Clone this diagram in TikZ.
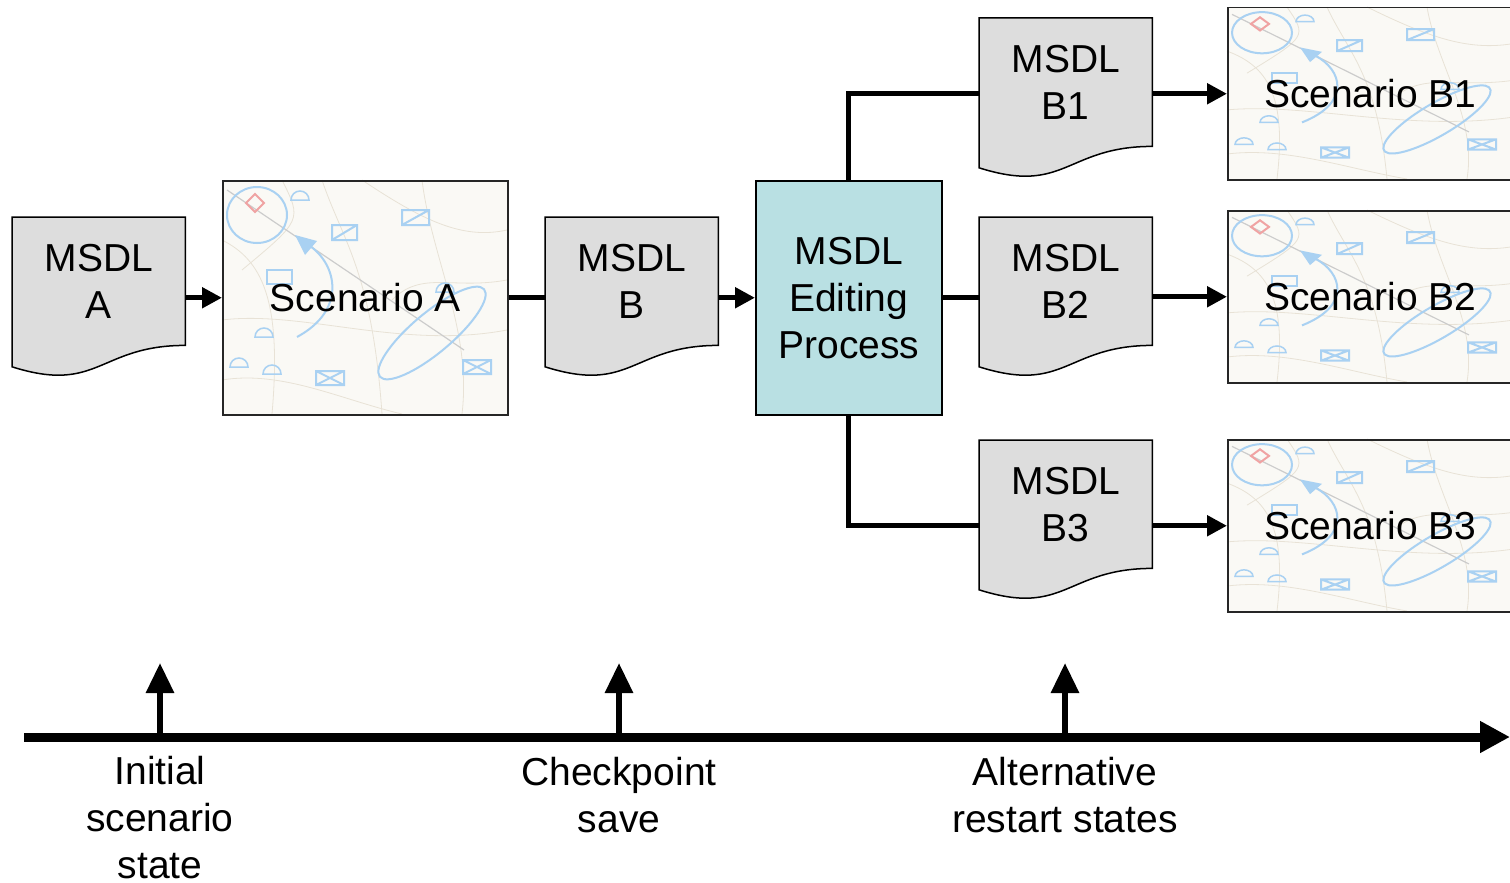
\documentclass[tikz,border=0pt]{standalone}
\usepackage{fontspec}
\setmainfont{Liberation Sans}
\usetikzlibrary{arrows.meta,calc}
\pgfdeclarelayer{background}
\pgfsetlayers{background,main}
\definecolor{docgray}{HTML}{DDDDDD}
\definecolor{editteal}{HTML}{B9E0E3}
\definecolor{mapblue}{HTML}{A9D1F2}
\definecolor{mapred}{HTML}{F0A3A3}
\definecolor{mapbg}{HTML}{FAF9F5}
\definecolor{maproad}{HTML}{E8E2D6}
\tikzset{
  txt/.style={font=\fontsize{39}{47}\selectfont, align=center},
  docnode/.style={txt, minimum width=173pt, minimum height=128pt, inner sep=0pt, anchor=north west},
  docline/.style={draw=black, line width=1.5pt, fill=docgray},
  editbox/.style={txt, draw=black, line width=1.5pt, fill=editteal, minimum width=186pt, minimum height=234pt, inner sep=0pt, anchor=north west},
  scenbox/.style={txt, draw=black!85, line width=1.5pt, minimum width=285pt, inner sep=0pt, anchor=north west},
  flow/.style={line width=5pt},
  flowarrow/.style={flow, -{Triangle[length=20pt,width=20pt]}},
  axisline/.style={line width=9pt, -{Triangle[length=30pt,width=30pt]}},
  tickarrow/.style={line width=6pt, -{Triangle[length=30pt,width=27pt]}},
  mapline/.style={draw=mapblue, line width=2pt},
  roadline/.style={draw=maproad, line width=0.8pt},
  lbl/.style={txt, inner sep=0pt},
}
\newcommand\docshape[1]{%
  \begin{pgfonlayer}{background}
  \path[docline] (#1.south east) -- (#1.north east) -- (#1.north west) -- ([yshift=-21.4pt]#1.south west)
     .. controls ([yshift=-48.9pt]#1.south) and (#1.south) .. (#1.south east) -- cycle;
  \end{pgfonlayer}}
\newcommand\mapdeco{%
  \fill[mapbg] (0,0) rectangle (285,234);
  \draw[roadline] (0,60) .. controls (40,80) and (60,120) .. (50,234);
  \draw[roadline] (100,0) .. controls (120,60) and (150,90) .. (160,234);
  \draw[roadline] (0,140) .. controls (80,130) and (180,170) .. (285,150);
  \draw[roadline] (140,0) .. controls (200,40) and (240,60) .. (285,50);
  \draw[roadline] (200,0) .. controls (210,80) and (250,150) .. (240,234);
  \draw[roadline] (0,200) .. controls (60,190) and (120,220) .. (180,234);
  \draw[roadline] (60,0) .. controls (80,40) .. (20,90);
  \draw[roadline] (285,100) .. controls (230,110) and (200,90) .. (170,120);
  \draw[gray!40, line width=1.2pt] (5,10) -- (242,170);
  \draw[mapline] (35,35) ellipse [x radius=30pt, y radius=28pt];
  \draw[mapred, line width=2pt] (33,14) -- (42,23) -- (33,32) -- (24,23) -- cycle;
  \draw[mapline] (180,30) rectangle (207,45) (180,45) -- (207,30);
  \draw[mapline] (110,45) rectangle (135,60) (110,60) -- (135,45);
  \draw[mapline] (45,90) rectangle (70,104);
  \draw[mapline] (94,191) rectangle (122,205) (94,191) -- (122,205) (94,205) -- (122,191);
  \draw[mapline] (241,180) rectangle (269,194) (241,180) -- (269,194) (241,194) -- (269,180);
  \foreach \px/\py in {78/13, 42/150, 17/180, 50/187, 223/105}{
    \draw[mapline, line width=1.5pt] (\px-9,\py+7) arc[start angle=180, end angle=0, radius=9pt] -- cycle;
  }
  \draw[mapline] (75,157) .. controls (125,130) and (115,85) .. (88,66);
  \fill[mapblue] (73,55) -- (95,61) -- (83,75) -- cycle;
  \draw[mapline, rotate around={40:(210,153)}] (210,153) ellipse [x radius=68pt, y radius=20pt];
}
\begin{document}
\begin{tikzpicture}[x=1pt, y=-1pt]
\useasboundingbox (0,0) rectangle (1510,883);
% documents and boxes
\node[docnode] (ma) at (12,217) {MSDL\\A};
\docshape{ma}
\node[scenbox, minimum height=234pt] (sa) at (222,180) {Scenario A};
\node[docnode] (mb) at (545,217) {MSDL\\B};
\docshape{mb}
\node[editbox] (ed) at (755,180) {MSDL\\Editing\\Process};
\node[docnode] (mb1) at (979,18) {MSDL\\B1};
\docshape{mb1}
\node[docnode] (mb2) at (979,217) {MSDL\\B2};
\docshape{mb2}
\node[docnode] (mb3) at (979,440) {MSDL\\B3};
\docshape{mb3}
\node[scenbox, minimum height=172pt] (sb1) at (1227,7) {Scenario B1};
\node[scenbox, minimum height=172pt] (sb2) at (1227,210) {Scenario B2};
\node[scenbox, minimum height=172pt] (sb3) at (1227,439) {Scenario B3};
% map backgrounds
\begin{pgfonlayer}{background}
\begin{scope}[shift={(sa.north west)}] \mapdeco \end{scope}
\begin{scope}[shift={(sb1.north west)}, yscale=0.735] \mapdeco \end{scope}
\begin{scope}[shift={(sb2.north west)}, yscale=0.735] \mapdeco \end{scope}
\begin{scope}[shift={(sb3.north west)}, yscale=0.735] \mapdeco \end{scope}
\end{pgfonlayer}
% connectors
\draw[flowarrow] (ma.east |- sa.west) -- (sa.west);
\draw[flow] (sa.east) -- (sa.east -| mb.west);
\draw[flowarrow] (mb.east |- ed.west) -- (ed.west);
\draw[flow] (ed.east) -- (ed.east -| mb2.west);
\draw[flow] (ed.north) |- (mb1.west |- sb1.west);
\draw[flow] (ed.south) |- (mb3.west |- sb3.west);
\draw[flowarrow] (mb1.east |- sb1.west) -- (sb1.west);
\draw[flowarrow] (mb2.east |- sb2.west) -- (sb2.west);
\draw[flowarrow] (mb3.east |- sb3.west) -- (sb3.west);
% timeline
\coordinate (t0) at (24,737);
\coordinate (t1) at (1510,737);
\draw[axisline] (t0) -- (t1);
\coordinate (k1) at (160,737); \coordinate (k1t) at (160,663);
\coordinate (k2) at (619,737); \coordinate (k2t) at (619,663);
\coordinate (k3) at (1065,737); \coordinate (k3t) at (1065,663);
\draw[tickarrow] (k1) -- (k1t);
\draw[tickarrow] (k2) -- (k2t);
\draw[tickarrow] (k3) -- (k3t);
\node[lbl] (l1) at (160,818) {Initial\\scenario\\state};
\node[lbl] (l2) at (619,795) {Checkpoint\\save};
\node[lbl] (l3) at (1065,795) {Alternative\\restart states};
\end{tikzpicture}
\end{document}
